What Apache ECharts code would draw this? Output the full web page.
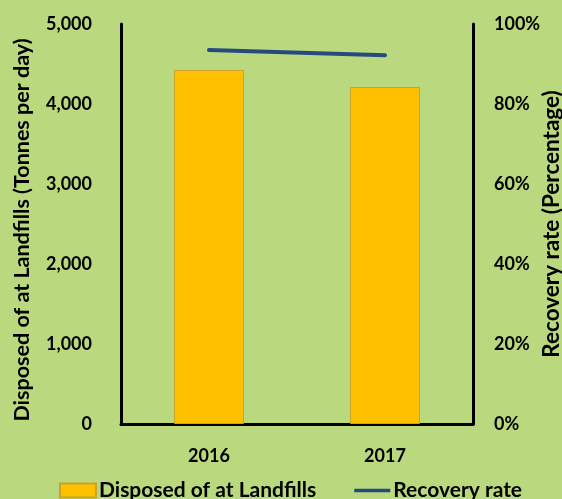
<!DOCTYPE html>
<html><head><meta charset="utf-8">
<script src="https://cdn.jsdelivr.net/npm/echarts@6/dist/echarts.min.js"></script>
<style>html,body{margin:0;padding:0;background:#BAD87E;}#c{width:562px;height:499px;}</style>
</head><body><div id="c"></div>
<script>
const categories = ['2016', '2017'];
const disposed = [4425, 4212];
const recoveryRate = [93.5, 92.2];
const leftTicks = [0, 1000, 2000, 3000, 4000, 5000];
const rightTicks = [0, 20, 40, 60, 80, 100];

const F = 'Lato, "Liberation Sans", sans-serif';
const chart = echarts.init(document.getElementById('c'));
chart.setOption({
  backgroundColor: '#BAD87E',
  animation: false,
  grid: {left: 121, right: 89, top: 24, bottom: 75, outerBoundsMode: 'none', containLabel: false},
  legend: {
    top: 480, left: 59, padding: 0, itemWidth: 36, itemHeight: 14, itemGap: 38,
    textStyle: {fontFamily: F, fontWeight: 'bold', fontSize: 21, color: '#000', padding: [0,0,0,-2]},
    data: [
      {name: 'Disposed of at Landfills', icon: 'rect'},
      {name: 'Recovery rate', icon: 'path://M0,0 L40,0 L40,4 L0,4 Z'}
    ]
  },
  xAxis: {
    type: 'category', data: categories,
    axisLine: {lineStyle: {color: '#000', width: 3}},
    axisTick: {show: false},
    axisLabel: {fontFamily: F, fontWeight: 'bold', fontSize: 18, color: '#000', margin: 23}
  },
  yAxis: [{
    type: 'value', min: leftTicks[0], max: leftTicks[leftTicks.length-1], interval: 1000,
    name: 'Disposed of at Landfills (Tonnes per day)', nameLocation: 'middle', nameGap: 88,
    nameMoveOverlap: false,
    nameTextStyle: {fontFamily: F, fontWeight: 'bold', fontSize: 21.5, color: '#000', padding: [0,12,0,0]},
    axisLine: {show: true, lineStyle: {color: '#000', width: 3}},
    axisTick: {show: false}, splitLine: {show: false},
    axisLabel: {fontFamily: F, fontWeight: 'bold', fontSize: 18, color: '#000', margin: 29,
      formatter: v => v.toLocaleString('en-US')}
  }, {
    type: 'value', min: rightTicks[0], max: rightTicks[rightTicks.length-1], interval: 20,
    name: 'Recovery rate (Percentage)', nameLocation: 'middle', nameGap: 67,
    nameMoveOverlap: false,
    nameTextStyle: {fontFamily: F, fontWeight: 'bold', fontSize: 22.5, color: '#000'},
    axisLine: {show: true, lineStyle: {color: '#000', width: 3}},
    axisTick: {show: false}, splitLine: {show: false},
    axisLabel: {fontFamily: F, fontWeight: 'bold', fontSize: 18, color: '#000', margin: 21,
      formatter: v => v + '%'}
  }],
  series: [{
    name: 'Disposed of at Landfills', type: 'bar', data: disposed, barWidth: 70,
    itemStyle: {color: '#FFC000', borderColor: '#C9A227', borderWidth: 1}
  }, {
    name: 'Recovery rate', type: 'line', yAxisIndex: 1, data: recoveryRate,
    symbol: 'none', lineStyle: {color: '#264A80', width: 4, cap: 'round'}, itemStyle: {color: '#264A80'}
  }]
});
</script></body></html>
